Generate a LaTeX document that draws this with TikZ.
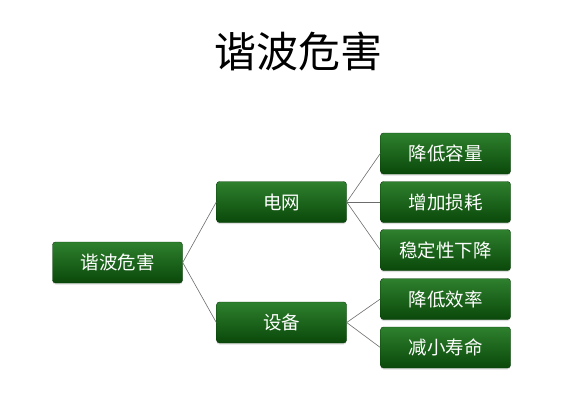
\documentclass[tikz,border=0pt]{standalone}
\usepackage{fontspec}
\setmainfont{Noto Sans CJK SC}
\usetikzlibrary{shadows}
\definecolor{gtop}{HTML}{2E802E}
\definecolor{gbot}{HTML}{0A480A}
\definecolor{gedge}{HTML}{0A3F0A}
\begin{document}
\begin{tikzpicture}[
    x=1pt, y=-1pt,
    box/.style={rectangle, draw=gedge, thin, rounded corners=3pt,
                top color=gtop, bottom color=gbot, text=white,
                minimum width=130pt, minimum height=41pt, align=center,
                inner sep=2pt, font=\fontsize{18.5pt}{22pt}\selectfont,
                drop shadow={shadow xshift=0pt, shadow yshift=-1.5pt, opacity=0.25}},
    link/.style={draw=gray!85!black, line width=0.6pt},
  ]
  \useasboundingbox (0,0) rectangle (565,408);

  % === Title ===
  \node[font=\fontsize{42pt}{48pt}\selectfont] (title) at (298,51) {谐波危害};

  % === Levels ===
  \node[box] (root) at (117.5,262.5) {谐波危害};

  \node[box] (grid) at (281.5,202) {电网};
  \node[box] (dev)  at (281.5,322.5) {设备};

  \node[box] (g1) at (445.5,153.5) {降低容量};
  \node[box] (g2) at (445.5,202) {增加损耗};
  \node[box] (g3) at (445.5,250) {稳定性下降};
  \node[box] (d1) at (445.5,299) {降低效率};
  \node[box] (d2) at (445.5,347.5) {减小寿命};

  % Connectors
  \draw[link] (root.east) -- (grid.west);
  \draw[link] (root.east) -- (dev.west);
  \draw[link] (grid.east) -- (g1.west);
  \draw[link] (grid.east) -- (g2.west);
  \draw[link] (grid.east) -- (g3.west);
  \draw[link] (dev.east) -- (d1.west);
  \draw[link] (dev.east) -- (d2.west);

\end{tikzpicture}
\end{document}
